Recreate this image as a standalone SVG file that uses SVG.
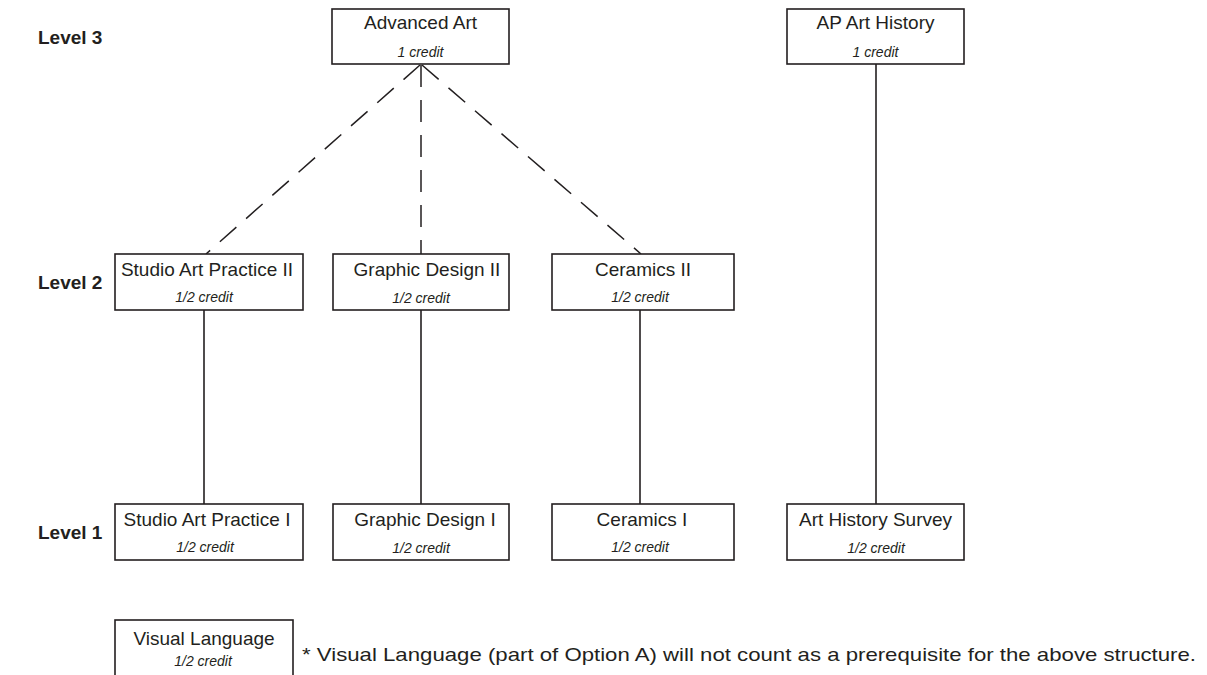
<svg xmlns="http://www.w3.org/2000/svg" width="1207" height="675" viewBox="0 0 1207 675">
<style>
.box{fill:#fff;stroke:#231f20;stroke-width:1.6}
.t{font-family:"Liberation Sans",Arial,sans-serif;font-size:19px;fill:#231f20;text-anchor:middle}
.c{font-family:"Liberation Sans",Arial,sans-serif;font-size:14px;font-style:italic;fill:#231f20;text-anchor:middle}
.lv{font-family:"Liberation Sans",Arial,sans-serif;font-size:19px;font-weight:bold;fill:#231f20}
.note{font-family:"Liberation Sans",Arial,sans-serif;font-size:19px;fill:#231f20}
.dash{stroke:#231f20;stroke-width:1.5;fill:none;stroke-dasharray:22 13}
.solid{stroke:#231f20;stroke-width:1.6;fill:none}
</style>
<rect width="1207" height="675" fill="#fff"/>
<g id="levels">
<text class="lv" x="38" y="44">Level 3</text>
<text class="lv" x="38" y="289">Level 2</text>
<text class="lv" x="38" y="539">Level 1</text>
</g>
<g id="connectors">
<line class="dash" x1="420" y1="65" x2="206" y2="254"/>
<line class="dash" x1="421" y1="65" x2="421" y2="254"/>
<line class="dash" x1="422" y1="65" x2="641" y2="254"/>
<line class="solid" x1="204" y1="310" x2="204" y2="504"/>
<line class="solid" x1="421" y1="310" x2="421" y2="504"/>
<line class="solid" x1="640" y1="310" x2="640" y2="504"/>
<line class="solid" x1="876" y1="64" x2="876" y2="504"/>
</g>
<g id="advanced-art">
<rect class="box" x="332" y="9" width="177" height="55"/>
<text class="t" x="420.5" y="29">Advanced Art</text>
<text class="c" x="420.5" y="57">1 credit</text>
</g>
<g id="ap-art-history">
<rect class="box" x="787" y="9" width="177" height="55"/>
<text class="t" x="875.5" y="29">AP Art History</text>
<text class="c" x="875.5" y="57">1 credit</text>
</g>
<g id="studio-art-practice-2">
<rect class="box" x="115" y="254" width="188" height="56"/>
<text class="t" x="207" y="276">Studio Art Practice II</text>
<text class="c" x="204" y="302">1/2 credit</text>
</g>
<g id="graphic-design-2">
<rect class="box" x="333" y="254" width="176" height="56"/>
<text class="t" x="427" y="276">Graphic Design II</text>
<text class="c" x="421" y="303">1/2 credit</text>
</g>
<g id="ceramics-2">
<rect class="box" x="552" y="254" width="182" height="56"/>
<text class="t" x="643" y="276">Ceramics II</text>
<text class="c" x="640" y="302">1/2 credit</text>
</g>
<g id="studio-art-practice-1">
<rect class="box" x="115" y="504" width="188" height="56"/>
<text class="t" x="207" y="526">Studio Art Practice I</text>
<text class="c" x="205" y="552">1/2 credit</text>
</g>
<g id="graphic-design-1">
<rect class="box" x="333" y="504" width="176" height="56"/>
<text class="t" x="425" y="526">Graphic Design I</text>
<text class="c" x="421" y="553">1/2 credit</text>
</g>
<g id="ceramics-1">
<rect class="box" x="552" y="504" width="182" height="56"/>
<text class="t" x="642" y="526">Ceramics I</text>
<text class="c" x="640" y="552">1/2 credit</text>
</g>
<g id="art-history-survey">
<rect class="box" x="787" y="504" width="177" height="56"/>
<text class="t" x="875.5" y="526">Art History Survey</text>
<text class="c" x="876" y="553">1/2 credit</text>
</g>
<g id="visual-language">
<rect class="box" x="115" y="620" width="178" height="62"/>
<text class="t" x="204" y="645">Visual Language</text>
<text class="c" x="203" y="666">1/2 credit</text>
</g>
<g id="footnote">
<text class="note" x="302" y="661" textLength="894" lengthAdjust="spacingAndGlyphs">* Visual Language (part of Option A) will not count as a prerequisite for the above structure.</text>
</g>
</svg>
